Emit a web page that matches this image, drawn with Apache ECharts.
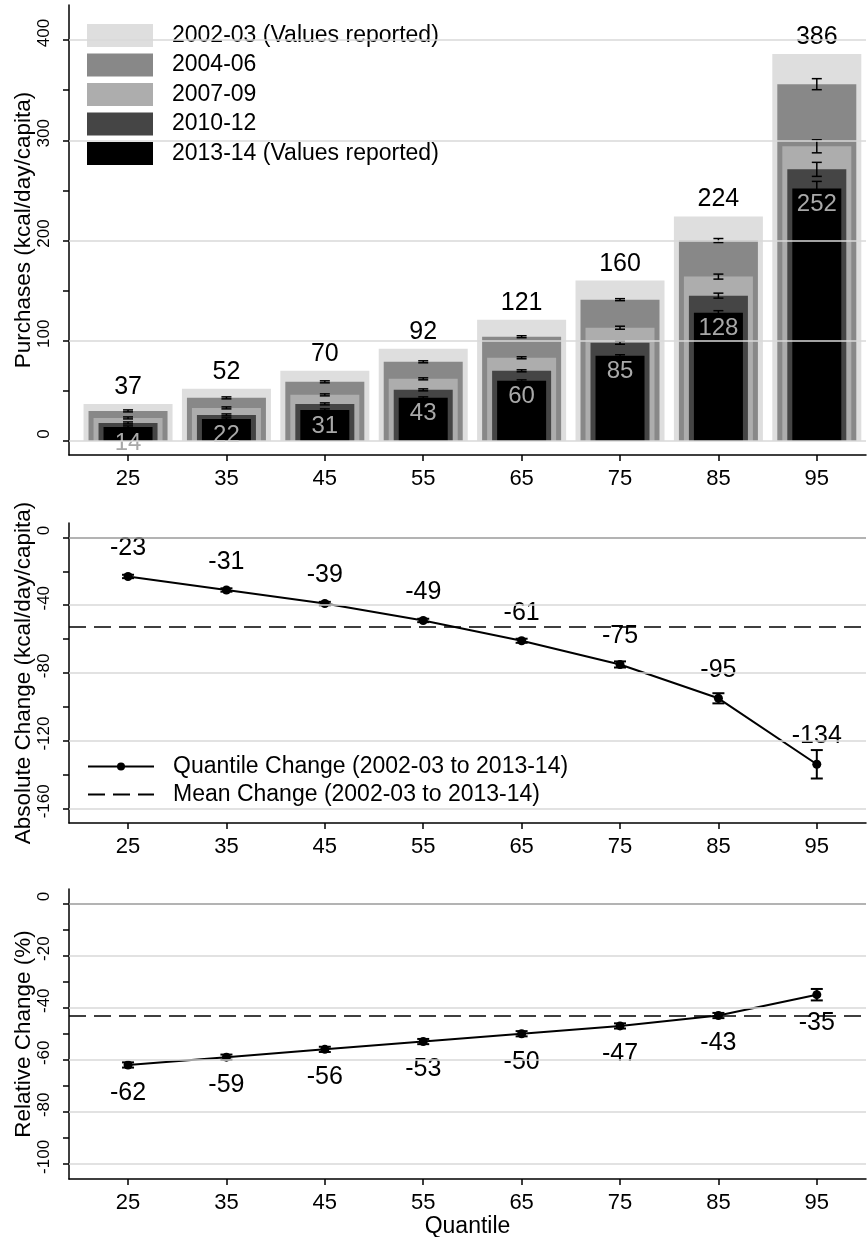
<!DOCTYPE html>
<html>
<head>
<meta charset="utf-8">
<script src="https://cdn.jsdelivr.net/npm/echarts@6/dist/echarts.min.js"></script>
<style>
  html, body { margin: 0; padding: 0; background: #fff; }
  #chart { width: 867px; height: 1237px; }
</style>
</head>
<body>
<div id="chart"></div>
<script>
// quantiles on the x axis
var quantiles = [25, 35, 45, 55, 65, 75, 85, 95]

// purchases (kcal/day/capita) per period
var kcal0203 = [37, 52, 70, 92, 121, 160, 224, 386]
var kcal0406 = [30, 43, 59, 79, 104, 141, 200, 356]
var kcal0709 = [23, 33, 46, 62, 83, 113, 164, 294]
var kcal1012 = [18, 26, 37, 51, 70, 98, 145, 271]
var kcal1314 = [14, 22, 31, 43, 60, 85, 128, 252]
// half width of the confidence intervals
var err0406 = [1, 1, 1, 1, 1, 1, 2, 5.5]
var err0709 = [1, 1, 1, 1, 1, 1.5, 2.5, 6.5]
var err1012 = [1, 1, 1, 1, 1, 1.5, 2.5, 7]
var err1314 = [1, 1, 1, 1, 1, 1, 2, 7]

// absolute change 2002-03 -> 2013-14
var absChange = [-23, -31, -39, -49, -61, -75, -95, -134]
var absErr = [1, 1, 1, 1, 1.2, 1.8, 3, 8.4]
var absMean = -53

// relative change (%)
var relChange = [-62, -59, -56, -53, -50, -47, -43, -35]
var relErr = [1, 1, 1, 1, 1, 1, 1, 2.2]
var relMean = -43

// axis ticks / labels
var topLabels = [0, 100, 200, 300, 400]
var topTicks = [0, 50, 100, 150, 200, 250, 300, 350, 400]
var absLabels = [0, -40, -80, -120, -160]
var absTicks = [0, -20, -40, -60, -80, -100, -120, -140, -160]
var relLabels = [0, -20, -40, -60, -80, -100]
var relTicks = [0, -10, -20, -30, -40, -50, -60, -70, -80, -90, -100]

var FONT = 'Liberation Sans, Arial, sans-serif'
var QUANT_NAME = 'Quantile Change (2002-03 to 2013-14)'
var MEAN_NAME = 'Mean Change (2002-03 to 2013-14)'

function barSeries(name, vals, errs, width, color, labelMode) {
  return {
    name: name,
    type: 'custom',
    xAxisIndex: 0,
    yAxisIndex: 0,
    z: 3,
    data: quantiles.map(function(q, i) {
      return [q, vals[i], errs ? errs[i] : 0]
    }),
    encode: { x: 0, y: 1 },
    itemStyle: { color: color },
    renderItem: function(params, api) {
      var q = api.value(0)
      var v = api.value(1)
      var e = api.value(2)
      var top = api.coord([q, v])
      var base = api.coord([q, 0])
      var kids = [{
        type: 'rect',
        shape: { x: top[0] - width / 2, y: top[1], width: width, height: base[1] - top[1] },
        style: { fill: color }
      }]
      if (e) {
        var hi = api.coord([q, v + e])
        var lo = api.coord([q, v - e])
        var ls = { stroke: '#000', lineWidth: 1.5 }
        kids.push({ type: 'line', shape: { x1: hi[0], y1: hi[1], x2: lo[0], y2: lo[1] }, style: ls })
        kids.push({ type: 'line', shape: { x1: hi[0] - 5, y1: hi[1], x2: hi[0] + 5, y2: hi[1] }, style: ls })
        kids.push({ type: 'line', shape: { x1: lo[0] - 5, y1: lo[1], x2: lo[0] + 5, y2: lo[1] }, style: ls })
      }
      if (labelMode === 'above') {
        kids.push({
          type: 'text',
          style: { x: top[0], y: top[1] - 17, text: String(v), fill: '#000', font: '25px ' + FONT, align: 'center', verticalAlign: 'middle' }
        })
      } else if (labelMode === 'inside') {
        kids.push({
          type: 'text',
          style: { x: top[0], y: top[1] + 16, text: String(v), fill: '#a8a8a8', font: '24px ' + FONT, align: 'center', verticalAlign: 'middle' }
        })
      }
      return { type: 'group', children: kids }
    }
  }
}

function errorSeries(idx, vals, errs) {
  return {
    type: 'custom',
    xAxisIndex: idx,
    yAxisIndex: idx,
    z: 3,
    silent: true,
    data: quantiles.map(function(q, i) { return [q, vals[i], errs[i]] }),
    encode: { x: 0, y: 1 },
    renderItem: function(params, api) {
      var q = api.value(0)
      var v = api.value(1)
      var e = api.value(2)
      var hi = api.coord([q, v + e])
      var lo = api.coord([q, v - e])
      var ls = { stroke: '#000', lineWidth: 2 }
      return {
        type: 'group',
        children: [
          { type: 'line', shape: { x1: hi[0], y1: hi[1], x2: lo[0], y2: lo[1] }, style: ls },
          { type: 'line', shape: { x1: hi[0] - 6, y1: hi[1], x2: hi[0] + 6, y2: hi[1] }, style: ls },
          { type: 'line', shape: { x1: lo[0] - 6, y1: lo[1], x2: lo[0] + 6, y2: lo[1] }, style: ls }
        ]
      }
    }
  }
}

function gridLines(idx, labels, zeroDark) {
  return {
    type: 'line',
    xAxisIndex: idx,
    yAxisIndex: idx,
    z: 1,
    silent: true,
    data: [],
    markLine: {
      silent: true,
      symbol: 'none',
      animation: false,
      label: { show: false },
      data: labels.map(function(v) {
        return {
          yAxis: v,
          lineStyle: { color: (zeroDark && v === 0) ? '#9a9a9a' : '#d9d9d9', width: 1.5, type: 'solid' }
        }
      })
    }
  }
}

function meanSeries(idx, name, mean) {
  return {
    name: name,
    type: 'line',
    xAxisIndex: idx,
    yAxisIndex: idx,
    z: 2,
    symbol: 'none',
    data: [],
    lineStyle: { color: '#000', width: 1.5, type: [17, 8] },
    itemStyle: { color: '#000' },
    markLine: {
      silent: true,
      symbol: 'none',
      animation: false,
      label: { show: false },
      lineStyle: { color: '#000', width: 1.5, type: [17, 8] },
      data: [{ yAxis: mean }]
    }
  }
}

function changeSeries(idx, name, vals, labelPos) {
  return {
    name: name,
    type: 'line',
    xAxisIndex: idx,
    yAxisIndex: idx,
    z: 4,
    data: quantiles.map(function(q, i) { return [q, vals[i]] }),
    symbol: 'circle',
    symbolSize: 9,
    lineStyle: { color: '#000', width: 2 },
    itemStyle: { color: '#000' },
    label: {
      show: true,
      position: labelPos,
      distance: 11,
      fontSize: 25,
      color: '#000',
      formatter: function(p) { return p.value[1] }
    }
  }
}

function xAxisOf(idx, withName) {
  return {
    type: 'value',
    gridIndex: idx,
    position: 'bottom',
    min: 19,
    max: 100,
    name: withName ? 'Quantile' : '',
    nameLocation: 'middle',
    nameGap: 36,
    nameMoveOverlap: false,
    nameTextStyle: { fontSize: 23, color: '#000' },
    axisLine: { onZero: false, lineStyle: { color: '#000', width: 1.5 } },
    axisTick: { customValues: quantiles, length: 6, lineStyle: { color: '#000', width: 1.5 } },
    axisLabel: { customValues: quantiles, fontSize: 22, color: '#000', margin: 13 },
    splitLine: { show: false }
  }
}

function yAxisOf(idx, min, max, ticks, labels, name) {
  return {
    type: 'value',
    gridIndex: idx,
    min: min,
    max: max,
    name: name,
    nameLocation: 'middle',
    nameGap: 34,
    nameMoveOverlap: false,
    nameTextStyle: { fontSize: 22.5, color: '#000' },
    axisLine: { show: true, onZero: false, lineStyle: { color: '#000', width: 1.5 } },
    axisTick: { show: true, customValues: ticks, length: 6, lineStyle: { color: '#000', width: 1.5 } },
    axisLabel: { customValues: labels, rotate: 90, fontSize: 17, color: '#000', margin: 16, padding: [0, 0, 0, 14] },
    splitLine: { show: false }
  }
}

var chart = echarts.init(document.getElementById('chart'), null, { renderer: 'canvas' })

var option = {
  animation: false,
  backgroundColor: '#fff',
  textStyle: { fontFamily: FONT },
  grid: [
    { left: 69, right: 1, top: 5, height: 450, outerBoundsMode: 'none' },
    { left: 69, right: 1, top: 523, height: 300, outerBoundsMode: 'none' },
    { left: 69, right: 1, top: 889, height: 290, outerBoundsMode: 'none' }
  ],
  legend: [
    {
      orient: 'vertical',
      left: 82,
      top: 19,
      itemWidth: 66,
      itemHeight: 23,
      itemGap: 6.5,
      icon: 'rect',
      selectedMode: false,
      textStyle: { fontSize: 23, color: '#000', padding: [0, 0, 0, 14] },
      data: ['2002-03 (Values reported)', '2004-06', '2007-09', '2010-12', '2013-14 (Values reported)']
    },
    {
      orient: 'vertical',
      left: 82,
      top: 750,
      itemWidth: 66,
      itemHeight: 10,
      itemGap: 5,
      selectedMode: false,
      textStyle: { fontSize: 23, color: '#000', padding: [0, 0, 0, 14] },
      data: [
        { name: QUANT_NAME },
        { name: MEAN_NAME, itemStyle: { opacity: 0 } }
      ]
    }
  ],
  xAxis: [xAxisOf(0, false), xAxisOf(1, false), xAxisOf(2, true)],
  yAxis: [
    yAxisOf(0, -14, 435, topTicks, topLabels, 'Purchases (kcal/day/capita)'),
    yAxisOf(1, -168.7, 8.6, absTicks, absLabels, 'Absolute Change (kcal/day/capita)'),
    yAxisOf(2, -105.8, 5.6, relTicks, relLabels, 'Relative Change (%)')
  ],
  series: [
    gridLines(0, topLabels, false),
    barSeries('2002-03 (Values reported)', kcal0203, null, 89, '#dedede', 'above'),
    barSeries('2004-06', kcal0406, err0406, 79, '#888888', null),
    barSeries('2007-09', kcal0709, err0709, 69, '#adadad', null),
    barSeries('2010-12', kcal1012, err1012, 59, '#454545', null),
    barSeries('2013-14 (Values reported)', kcal1314, err1314, 49, '#000000', 'inside'),

    gridLines(1, absLabels, true),
    meanSeries(1, MEAN_NAME, absMean),
    errorSeries(1, absChange, absErr),
    changeSeries(1, QUANT_NAME, absChange, 'top'),

    gridLines(2, relLabels, true),
    meanSeries(2, 'Mean relative change', relMean),
    errorSeries(2, relChange, relErr),
    changeSeries(2, 'Relative quantile change', relChange, 'bottom')
  ]
}

chart.setOption(option)
</script>
</body>
</html>
